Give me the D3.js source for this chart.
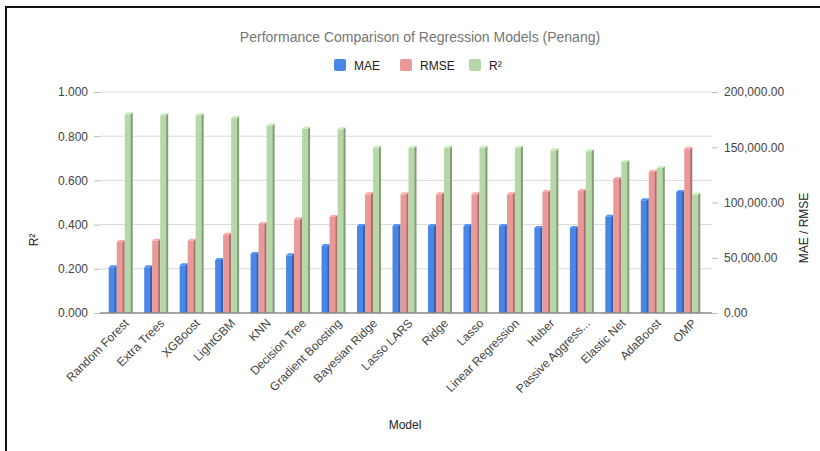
<!DOCTYPE html>
<html>
<head>
<meta charset="utf-8">
<script src="https://cdnjs.cloudflare.com/ajax/libs/d3/7.8.5/d3.min.js"></script>
<style>
  body { margin: 0; background: #fff; }
  text { font-family: "Liberation Sans", Arial, sans-serif; }
  .title { fill: #757575; font-size: 14px; }
  .tick text { fill: #444; font-size: 12px; }
  .axisLabel { fill: #222; font-size: 12px; }
</style>
</head>
<body>
<div class="chart"></div>
<script>
// data
var models = ["Random Forest", "Extra Trees", "XGBoost", "LightGBM", "KNN", "Decision Tree",
              "Gradient Boosting", "Bayesian Ridge", "Lasso LARS", "Ridge", "Lasso",
              "Linear Regression", "Huber", "Passive Aggress...", "Elastic Net", "AdaBoost", "OMP"];
var mae  = [43200, 43200, 45000, 49800, 55200, 54000, 62400, 80500, 80500, 80500, 80500, 80500, 78700, 78700, 89000, 103800, 111300];
var rmse = [66100, 67200, 67200, 72700, 82300, 86600, 88700, 109200, 109200, 109200, 109200, 109200, 111300, 112200, 123100, 129400, 150500];
var r2   = [0.908, 0.904, 0.904, 0.891, 0.858, 0.843, 0.840, 0.757, 0.757, 0.757, 0.757, 0.757, 0.745, 0.741, 0.692, 0.665, 0.544];
var leftTicks = [0, 0.2, 0.4, 0.6, 0.8, 1.0];
var rightTicks = [0, 50000, 100000, 150000, 200000];
var seriesNames = ["MAE", "RMSE", "R²"];
var seriesColors = ["#4a86e8", "#ea9999", "#b6d7a8"];

var width = 820, height = 451;
var plot = { left: 103, right: 706, top: 92, bottom: 313 };

var svg = d3.select(".chart").append("svg")
            .attr("width", width)
            .attr("height", height);

// frame lines (top + left)
svg.append("line").attr("x1", 6).attr("y1", 7).attr("x2", width).attr("y2", 7)
   .style("stroke", "#111").style("stroke-width", 2);
svg.append("line").attr("x1", 6).attr("y1", 6).attr("x2", 6).attr("y2", height)
   .style("stroke", "#111").style("stroke-width", 2);

svg.append("text")
   .attr("class", "title")
   .attr("x", 420).attr("y", 42)
   .style("text-anchor", "middle")
   .text("Performance Comparison of Regression Models (Penang)");

// legend
var legendX = [334, 400, 469];
seriesNames.forEach(function(name, i) {
  svg.append("rect")
     .attr("x", legendX[i]).attr("y", 59)
     .attr("width", 12).attr("height", 12).attr("rx", 2)
     .style("fill", seriesColors[i]);
  svg.append("text")
     .attr("x", legendX[i] + 20).attr("y", 69.5)
     .style("font-size", "12px").style("fill", "#222")
     .text(name);
});

var scaleX = d3.scaleBand()
               .domain(models)
               .range([plot.left, plot.right]);

var scaleL = d3.scaleLinear().domain([0, 1]).range([plot.bottom, plot.top]);
var scaleR = d3.scaleLinear().domain([0, 200000]).range([plot.bottom, plot.top]);

// gridlines
svg.append("g")
   .selectAll("line")
   .data(leftTicks.slice(1))
   .enter().append("line")
   .attr("x1", plot.left - 3).attr("x2", plot.right + 6)
   .attr("y1", function(d) { return scaleL(d); })
   .attr("y2", function(d) { return scaleL(d); })
   .style("stroke", "#d9d9d9").style("stroke-width", 1);

var axisLeft = d3.axisLeft(scaleL).tickValues(leftTicks)
                 .tickFormat(d3.format(".3f"))
                 .tickSize(6).tickPadding(6);
var gL = svg.append("g").attr("transform", "translate(" + (plot.left - 3) + ",0)").call(axisLeft);
gL.select(".domain").remove();
gL.selectAll(".tick line").style("stroke", "#bbb");

var axisRight = d3.axisRight(scaleR).tickValues(rightTicks)
                  .tickFormat(d3.format(",.2f"))
                  .tickSize(6).tickPadding(6);
var gR = svg.append("g").attr("transform", "translate(" + (plot.right + 6) + ",0)").call(axisRight);
gR.select(".domain").remove();
gR.selectAll(".tick line").style("stroke", "#bbb");

// bars with a small 3D look
var barW = 7, depth = 2;
var seriesVals = [mae, rmse, r2];
var seriesScale = [scaleR, scaleR, scaleL];

seriesVals.forEach(function(vals, s) {
  var col = d3.color(seriesColors[s]);
  var g = svg.append("g");
  var bars = g.selectAll("g.bar")
              .data(models)
              .enter().append("g");
  function xPos(d, i) {
    return scaleX(d) + scaleX.bandwidth() / 2 - 12 + s * 8;
  }
  function yPos(d, i) { return seriesScale[s](vals[i]); }
  bars.append("rect")
      .attr("x", xPos)
      .attr("y", function(d, i) { return yPos(d, i) + depth; })
      .attr("width", barW)
      .attr("height", function(d, i) { return plot.bottom - yPos(d, i) - depth; })
      .style("fill", seriesColors[s]);
  bars.append("path")
      .attr("d", function(d, i) {
        var x = xPos(d, i) + barW, y = yPos(d, i);
        return "M" + (x - 1) + "," + (y + depth) + "L" + (x + depth - 1) + "," + y +
               "L" + (x + depth - 1) + "," + plot.bottom + "L" + (x - 1) + "," + plot.bottom + "Z";
      })
      .style("fill", col.darker(0.9));
  bars.append("path")
      .attr("d", function(d, i) {
        var x = xPos(d, i), y = yPos(d, i);
        return "M" + x + "," + (y + depth) + "L" + (x + depth) + "," + y +
               "L" + (x + barW + depth - 1) + "," + y + "L" + (x + barW - 1) + "," + (y + depth) + "Z";
      })
      .style("fill", col.brighter(0.3));
});

// baseline
svg.append("line")
   .attr("x1", plot.left - 3).attr("x2", plot.right + 6)
   .attr("y1", plot.bottom).attr("y2", plot.bottom)
   .style("stroke", "#888").style("stroke-width", 1.5);

// x labels
var axisBottom = d3.axisBottom(scaleX).tickSize(0).tickPadding(0);
var gB = svg.append("g").attr("transform", "translate(0," + plot.bottom + ")").call(axisBottom);
gB.select(".domain").remove();
gB.selectAll(".tick text")
  .attr("transform", "translate(6,8) rotate(-45)")
  .attr("dy", "0.35em")
  .style("text-anchor", "end");

svg.append("text").attr("class", "axisLabel")
   .attr("x", 405).attr("y", 429)
   .style("text-anchor", "middle")
   .text("Model");

svg.append("text").attr("class", "axisLabel")
   .attr("transform", "translate(38,240) rotate(-90)")
   .style("text-anchor", "middle")
   .text("R²");

svg.append("text").attr("class", "axisLabel")
   .attr("transform", "translate(808,228) rotate(-90)")
   .style("text-anchor", "middle")
   .text("MAE / RMSE");
</script>
</body>
</html>
